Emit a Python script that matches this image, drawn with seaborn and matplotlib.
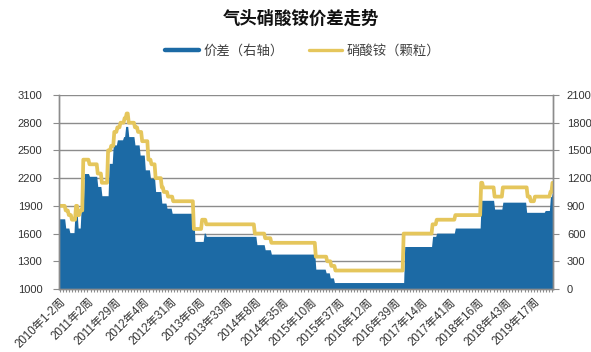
import numpy as np
import pandas as pd
import matplotlib
matplotlib.use("Agg")
import matplotlib.pyplot as plt
from matplotlib.lines import Line2D
import seaborn as sns

sns.set_theme(style="white")
plt.rcParams["font.family"] = ["Liberation Sans", "Noto Sans CJK SC", "DejaVu Sans"]

# Weekly series, stored as step segments: first week index of each level and the level
n_weeks = 478
price_start = [0, 6, 9, 12, 16, 18, 20, 23, 29, 37, 41, 47, 50, 53, 56, 59, 63, 65,
               67, 73, 76, 80, 86, 89, 93, 99, 101, 105, 110, 130, 138, 142, 189,
               199, 205, 248, 259, 263, 267, 333, 361, 365, 383, 408, 410, 421, 429,
               453, 456, 460, 475, 477]
price = [1900, 1850, 1800, 1750, 1900, 1800, 1850, 2400, 2350, 2250, 2150, 2500, 2550,
         2700, 2750, 2800, 2850, 2900, 2800, 2750, 2700, 2600, 2400, 2350, 2200, 2100,
         2050, 2000, 1950, 1650, 1750, 1700, 1600, 1550, 1500, 1350, 1300, 1250, 1200,
         1600, 1700, 1750, 1800, 2150, 2100, 2000, 2100, 2000, 1950, 2000, 2050, 2150]

spread_start = [0, 6, 10, 15, 18, 21, 24, 29, 37, 41, 48, 52, 56, 62, 64, 67, 73, 78,
                83, 88, 93, 99, 104, 109, 131, 140, 142, 191, 199, 205, 248, 258, 262,
                266, 334, 361, 365, 383, 408, 421, 429, 452, 470, 475, 477]
spread = [760, 660, 610, 840, 660, 890, 1250, 1220, 1110, 1010, 1360, 1560, 1615, 1650,
          1760, 1650, 1560, 1450, 1290, 1200, 1055, 930, 875, 820, 515, 605, 570, 480,
          425, 378, 215, 175, 120, 70, 460, 570, 605, 660, 960, 865, 940, 830, 850,
          1000, 1050]

tick_labels = ["2010年1-2周", "2011年2周", "2011年29周", "2012年4周", "2012年31周",
               "2013年6周", "2013年33周", "2014年8周", "2014年35周", "2015年10周",
               "2015年37周", "2016年12周", "2016年39周", "2017年14周", "2017年41周",
               "2018年16周", "2018年43周", "2019年17周"]
label_step = 27


def expand(starts, values, n):
    lengths = np.diff(list(starts) + [n])
    return np.repeat(values, lengths)


df = pd.DataFrame({
    "week": np.arange(n_weeks),
    "price": expand(price_start, price, n_weeks),
    "spread": expand(spread_start, spread, n_weeks),
})

BLUE = "#1c6aa5"
GOLD = "#e5c65c"
GRAY = "#8c8c8c"
TEXT = "#333333"
CJK = ["Noto Sans CJK SC", "DejaVu Sans"]

fig = plt.figure(figsize=(5.91, 3.52), dpi=100)
ax = fig.add_axes([59 / 591, 1 - 289 / 352, (553 - 59) / 591, (289 - 95) / 352])
ax2 = ax.twinx()
ax.set_zorder(ax2.get_zorder() + 1)
ax.patch.set_visible(False)

# spread area on the right axis, underneath
ax2.fill_between(df["week"], 0, df["spread"], color=BLUE, linewidth=0, zorder=2)
ax2.set_ylim(0, 2100)
ax2.set_yticks(np.arange(0, 2101, 300))
ax2.yaxis.grid(True, color=GRAY, linewidth=1.0)
ax2.set_axisbelow(True)

# ammonium nitrate price line on the left axis
sns.lineplot(data=df, x="week", y="price", ax=ax, color=GOLD, linewidth=2.7,
             legend=False)
for ln in ax.get_lines():
    ln.set_solid_joinstyle("round")
    ln.set_solid_capstyle("round")
ax.set_ylim(1000, 3100)
ax.set_yticks(np.arange(1000, 3101, 300))
ax.set_xlim(-0.5, n_weeks - 0.5)
ax.set_xlabel("")
ax.set_ylabel("")
ax2.set_ylabel("")

ax.set_xticks(np.arange(0, label_step * len(tick_labels), label_step))
ax.set_xticklabels(tick_labels, rotation=45, ha="right", rotation_mode="anchor",
                   fontsize=8.3, color=TEXT)
ax.set_xticks(np.arange(0, n_weeks, 3), minor=True)
ax.tick_params(axis="x", which="both", direction="out", length=2.5, width=0.8,
               color=GRAY, bottom=True, pad=2.5)
ax.tick_params(axis="y", direction="out", length=4, width=0.8, color=GRAY,
               labelsize=8, labelcolor=TEXT, left=True, pad=8)
ax2.tick_params(axis="y", direction="out", length=4, width=0.8, color=GRAY,
                labelsize=8, labelcolor=TEXT, right=True, pad=6)

for a in (ax, ax2):
    a.spines["top"].set_visible(False)
    for side in ("left", "right", "bottom"):
        a.spines[side].set_color(GRAY)
        a.spines[side].set_linewidth(1.0)

fig.text(301 / 591, 1 - 19 / 352, "气头硝酸铵价差走势", ha="center", va="center",
         fontsize=12.5, fontweight="bold", color="#111111", family=CJK)

handles = [Line2D([0], [0], color=BLUE, linewidth=3.2),
           Line2D([0], [0], color=GOLD, linewidth=2.4)]
leg = fig.legend(handles, ["价差（右轴）", "硝酸铵（颗粒）"], loc="center",
                 bbox_to_anchor=(303 / 591, 1 - 51 / 352), ncol=2, frameon=False,
                 handlelength=2.5, handletextpad=0.35, columnspacing=1.9,
                 prop={"family": CJK, "size": 9.6})
for t in leg.get_texts():
    t.set_color("#404040")

fig.savefig("out.png", dpi=100)
